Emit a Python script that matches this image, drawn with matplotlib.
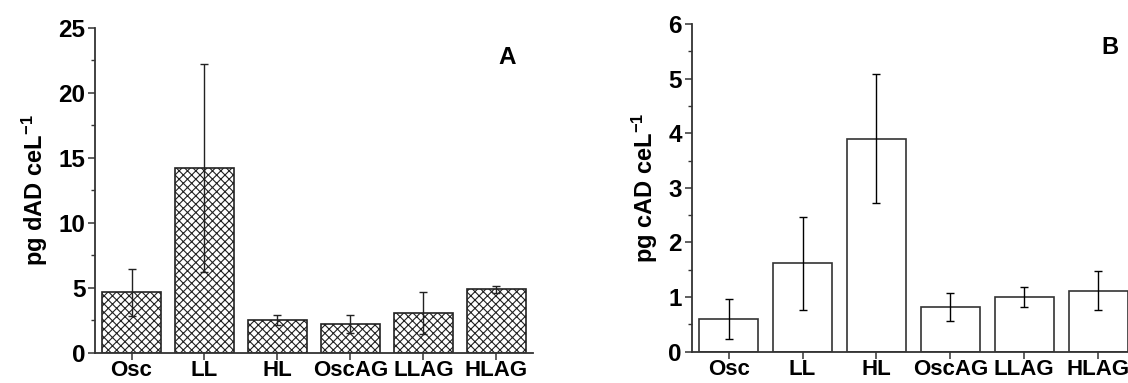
import numpy as np
import matplotlib.pyplot as plt
from matplotlib.ticker import MultipleLocator

plt.rcParams['font.family'] = ['Liberation Sans', 'DejaVu Sans']
plt.rcParams['font.weight'] = 'bold'
plt.rcParams['mathtext.fontset'] = 'custom'
plt.rcParams['mathtext.rm'] = 'Liberation Sans:bold'
plt.rcParams['mathtext.it'] = 'Liberation Sans:bold'
plt.rcParams['mathtext.bf'] = 'Liberation Sans:bold'
plt.rcParams['hatch.linewidth'] = 0.8

# tratamientos
grupos = ['Osc', 'LL', 'HL', 'OscAG', 'LLAG', 'HLAG']

# panel A: dAD
dAD = [4.65, 14.2, 2.5, 2.2, 3.05, 4.88]
dAD_err = [1.8, 8.0, 0.38, 0.7, 1.6, 0.25]

# panel B: cAD
cAD = [0.6, 1.62, 3.9, 0.82, 1.0, 1.12]
cAD_err = [0.37, 0.85, 1.18, 0.26, 0.18, 0.35]

W, H = 1128, 383
fig = plt.figure(figsize=(W / 100, H / 100), dpi=100)

def ejes(x0, x1, y0, y1):
    # posicion en pixeles -> fraccion de figura
    return fig.add_axes([x0 / W, 1 - y1 / H, (x1 - x0) / W, (y1 - y0) / H])

def estilo(ax, ymax, mayor, menor, ylabel):
    x = np.arange(len(grupos))
    ax.set_xlim(-0.5, 5.5)
    ax.set_ylim(0, ymax)
    ax.set_xticks(x)
    ax.set_xticklabels(grupos, fontsize=16, fontweight='bold')
    ax.yaxis.set_major_locator(MultipleLocator(mayor))
    ax.yaxis.set_minor_locator(MultipleLocator(menor))
    for lab in ax.get_yticklabels():
        lab.set_fontsize(17.5)
        lab.set_fontweight('bold')
    ax.tick_params(axis='both', which='major', direction='out', length=5,
                   width=1.1, color='#333333', pad=2)
    ax.tick_params(axis='x', which='major', pad=0.5)
    ax.tick_params(axis='y', which='minor', direction='out', length=3,
                   width=1.0, color='#333333')
    for s in ['top', 'right']:
        ax.spines[s].set_visible(False)
    for s in ['left', 'bottom']:
        ax.spines[s].set_color('#333333')
        ax.spines[s].set_linewidth(1.3)
    ax.set_ylabel(ylabel, fontsize=17, fontweight='bold', labelpad=6)

# panel A
axA = ejes(95, 533, 27.7, 352.7)
x = np.arange(len(grupos))
axA.bar(x, dAD, width=0.8, color='white', edgecolor='#222222',
        linewidth=1.2, hatch='xxxx', zorder=2)
axA.errorbar(x, dAD, yerr=dAD_err, fmt='none', ecolor='#222222',
             elinewidth=1.0, capsize=3, capthick=1.0, zorder=3)
estilo(axA, 25, 5, 2.5, 'pg dAD ceL$^{-1}$')
fig.text(507 / W, 1 - 58 / H, 'A', fontsize=17.5, fontweight='bold',
         ha='center', va='center')

# panel B
axB = ejes(691.7, 1135, 24, 351.7)
axB.bar(x, cAD, width=0.8, color='white', edgecolor='#333333',
        linewidth=1.2, zorder=2)
axB.errorbar(x, cAD, yerr=cAD_err, fmt='none', ecolor='black',
             elinewidth=1.0, capsize=3, capthick=1.0, zorder=3)
estilo(axB, 6, 1, 0.5, 'pg cAD ceL$^{-1}$')
fig.text(1110 / W, 1 - 47 / H, 'B', fontsize=17, fontweight='bold',
         ha='center', va='center')

fig.savefig('out.png', dpi=100)
